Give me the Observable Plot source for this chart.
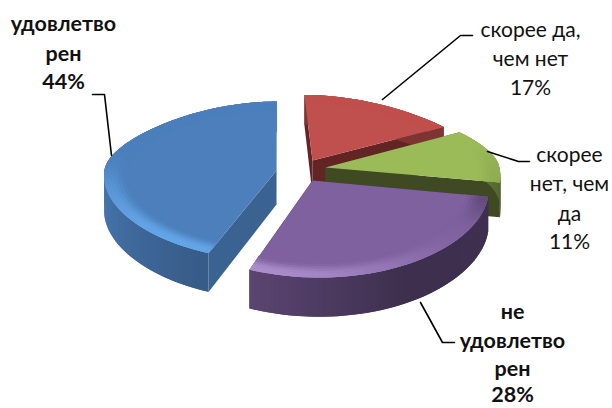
<!DOCTYPE html>
<html><head><meta charset="utf-8">
<script src="https://cdn.jsdelivr.net/npm/d3@7"></script>
<script src="https://cdn.jsdelivr.net/npm/@observablehq/plot@0.6"></script>
<style>html,body{margin:0;padding:0;background:#fff}svg{display:block}</style>
</head><body><div id="chart"></div>
<script>
// Data, in pie order (clockwise from 12 o'clock)
const categories = ["скорее да, чем нет", "скорее нет, чем да", "не удовлетворен", "удовлетворен"];
const values = [17, 11, 28, 44];
const labelLines = [["скорее да,", "чем нет"], ["скорее", "нет, чем", "да"], ["не", "удовлетво", "рен"], ["удовлетво", "рен"]];
const boldLabels = [false, false, true, true];
const baseColors = ["#c0504d", "#9bbb59", "#7f61a0", "#4c7fbc"];
const cutColors = ["#632523", "#404a22", "#3a2a4e", "#3a6392"];
const highlightColors = ["#d87a77", "#b9d67c", "#ad90cd", "#64a6e8"];
const shadowStrength = [0.2, 0.22, 0.7, 0.4];

// Layout of the exploded pie and its labels
const apexX = [312, 325, 312, 276];
const apexY = [160, 167, 180, 170];
const sliceScaleX = [0.98, 1.01, 1.02, 1];
const sliceScaleY = [0.95, 1, 1.08, 1];
const labelX = [530, 569, 512, 63];
const labelY = [[30, 59, 88], [155, 184, 214, 242], [312, 341, 369, 395], [24, 54, 82]];
const leaderX = [[382, 460, 472], [487, 518, 529], [420, 442, 454], [111, 104, 92]];
const leaderY = [[99, 35, 35], [151, 161, 161], [302, 342, 342], [155, 94, 94]];
const paintOrder = [0, 1, 3, 2];
const vanishX = 277, radiusX = 172, radiusY = 78, depth = 34;
const bevelStart = 0.86;

const rad = d => d * Math.PI / 180;
const arcs = d3.pie().sort(null)(values);

function project(i, r, deg, z) {
  const X = r * Math.sin(rad(deg)), Y = r * Math.cos(rad(deg));
  const wx = Y > 0 ? 1 + 0.3 * Math.pow(Y, 1.5) : 1 + 0.07 * Y, wy = 1 + 0.132 * Y;
  const wa = Y > 0 ? wx : 1 + 0.16 * Y;
  return [
    vanishX + (apexX[i] - vanishX) / wa + sliceScaleX[i] * radiusX * X / wx,
    apexY[i] - sliceScaleY[i] * radiusY * Y / wy + z * depth / wy
  ];
}

const sideShade = d3.scaleLinear().domain([60, 101, 150, 202, 270, 360]).range([0.35, 0.5, 0.52, 0.28, 0.04, 0.04]).clamp(true);
const polys = [];
let pid = 0;
function poly(pts, c) {
  const id = pid++;
  [...pts, pts[0]].forEach(p => polys.push({x: p[0], y: p[1], id, c}));
}
const step = 1.5;
function angles(a, b) {
  const out = [];
  for (let t = a; t < b; t += step) out.push(t);
  out.push(b);
  return out;
}
function bevelColor(i, t, deg) {
  const Y = Math.cos(rad(deg));
  const fade = Math.max(0, Math.min(1, (0.3 - Y) / 0.5));
  const h = Math.cos(rad(deg - 210));
  const bump = Math.sin(Math.min(1, t * 1.25) * Math.PI / 2) ** 2;
  const base = baseColors[i];
  if (h >= 0) return d3.interpolateRgb(base, highlightColors[i])(bump * Math.pow(h, 1.5) * fade);
  return d3.interpolateRgb(base, "#000")(bump * -h * fade * shadowStrength[i]);
}

for (const i of paintOrder) {
  const a0 = arcs[i].startAngle * 180 / Math.PI, a1 = arcs[i].endAngle * 180 / Math.PI;
  const ts = angles(a0, a1);
  for (const e of [a0, a1]) {
    poly([project(i, 0, e, 0), project(i, 1, e, 0), project(i, 1, e, 1), project(i, 0, e, 1)], cutColors[i]);
  }
  // outer wall: each strip reaches over the next one, so no seams show
  for (let k = ts.length - 2; k >= 0; k--) {
    const m = (ts[k] + ts[k + 1]) / 2;
    const e = ts[Math.min(k + 2, ts.length - 1)];
    const c = d3.interpolateRgb(baseColors[i], "#000")(sideShade(m));
    poly([project(i, 1, ts[k], 0), project(i, 1, e, 0), project(i, 1, e, 1), project(i, 1, ts[k], 1)], c);
  }
  poly([project(i, 0, a0, 0), ...ts.map(t => project(i, 1, t, 0))], baseColors[i]);
  const rings = 7;
  for (let q = 0; q < rings; q++) {
    const r0 = bevelStart + (1 - bevelStart) * q / rings, r1 = bevelStart + (1 - bevelStart) * (q + 1) / rings;
    for (let k = ts.length - 2; k >= 0; k--) {
      const m = (ts[k] + ts[k + 1]) / 2;
      const e = ts[Math.min(k + 2, ts.length - 1)];
      const c = bevelColor(i, (q + 0.5) / rings, m);
      poly([project(i, r0, ts[k], 0), project(i, r0, e, 0), project(i, r1, e, 0), project(i, r1, ts[k], 0)], c);
    }
  }
}

const leaders = leaderX.flatMap((xs, i) => xs.map((x, j) => ({x, y: leaderY[i][j], i})));
const labels = labelLines.flatMap((lines, i) =>
  [...lines, values[i] + "%"].map((text, j) => ({text, x: labelX[i], y: labelY[i][j], bold: boldLabels[i]})));

const chart = Plot.plot({
  width: 612, height: 408, margin: 0,
  style: {background: "#fff"},
  x: {domain: [0, 612], range: [0, 612], axis: null},
  y: {domain: [0, 408], range: [0, 408], axis: null},
  marks: [
    Plot.line(polys, {x: "x", y: "y", z: "id", fill: d => d.c, stroke: "none"}),
    Plot.line(leaders, {x: "x", y: "y", z: "i", stroke: "#000", strokeWidth: 1.6}),
    Plot.text(labels.filter(d => !d.bold), {x: "x", y: "y", text: "text", fontSize: 21, fontFamily: "Lato", fill: "#111", lineAnchor: "middle"}),
    Plot.text(labels.filter(d => d.bold), {x: "x", y: "y", text: "text", fontSize: 21.5, fontWeight: 700, fontFamily: "Lato", fill: "#111", lineAnchor: "middle"})
  ]
});
document.getElementById("chart").append(chart);
</script></body></html>
